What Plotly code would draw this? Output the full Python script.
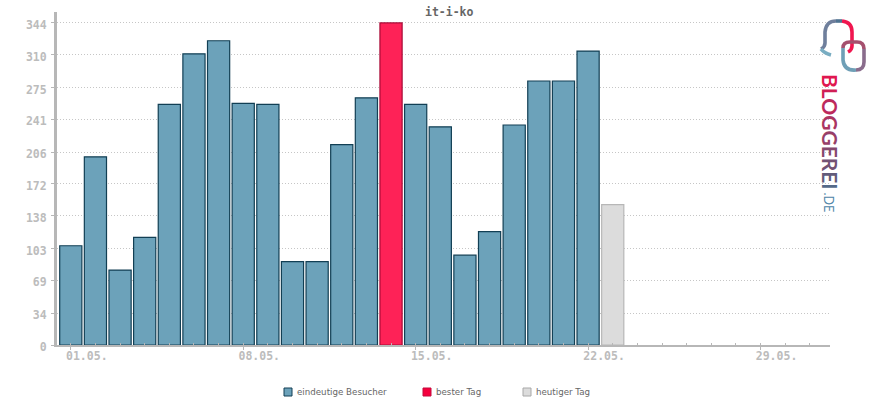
import plotly.graph_objects as go

# visitors per day, May
days = list(range(1, 32))
visitors = [106, 201, 80, 115, 257, 311, 325, 258, 257, 89, 89, 214, 264, None, 257, 233, 96, 121, 235, 282, 282, 314]
best_day = [14]
best_value = [344]
today = [23]
today_value = [150]

y_ticks = [0, 34, 69, 103, 138, 172, 206, 241, 275, 310, 344]
x_labels = {1: "01.05.", 8: "08.05.", 15: "15.05.", 22: "22.05.", 29: "29.05."}
legend_names = ["eindeutige Besucher", "bester Tag", "heutiger Tag"]

logo_word = "BLOGGEREI"
logo_colors = ["#e0174f", "#d01f55", "#bd2a5c", "#ab3562", "#983f68", "#85496e", "#725274", "#625c7a", "#556a88"]

AXIS = "#b7b7b7"
MONO = "DejaVu Sans Mono"
W, H = 870, 400
L, R, T, B = 57, 830, 12, 345


def px(x, y):
    # page pixels to paper coordinates
    return (x - L) / (R - L), (B - y) / (B - T)


def logo_path(d, color, width=3.6):
    parts = []
    for tok in d.split():
        if tok[0].isalpha():
            parts.append(tok)
        else:
            x, y = [float(v) for v in tok.split(",")]
            fx, fy = px(x, y)
            parts.append(f"{fx:.5f},{fy:.5f}")
    return dict(type="path", xref="paper", yref="paper", path=" ".join(parts), layer="above",
                line=dict(color=color, width=width))


fig = go.Figure()
bar_w = 0.9
fig.add_trace(go.Bar(x=days[:len(visitors)], y=visitors, name=legend_names[0], width=bar_w,
                     marker=dict(color="#6ca2ba", line=dict(color="#123f54", width=1.2))))
fig.add_trace(go.Bar(x=best_day, y=best_value, name=legend_names[1], width=bar_w,
                     marker=dict(color="#fe2257", line=dict(color="#a80a36", width=1.2))))
fig.add_trace(go.Bar(x=today, y=today_value, name=legend_names[2], width=bar_w,
                     marker=dict(color="#dcdcdc", line=dict(color="#b7b7b7", width=1.2))))

shapes = [
    logo_path("M 821,49 Q 825,47 825,43 L 825,32 Q 826,21 836,21", "#6f7f9c"),
    logo_path("M 836,21 L 842,21", "#4f7391"),
    logo_path("M 842,21 Q 852,22 852,32 L 852,46 Q 852,50 848,52", "#f0164f"),
    logo_path("M 821,49 Q 824,53 831,55", "#79adc2"),
    logo_path("M 843,48 Q 843,42 850,42 L 857,42 Q 864,42 864,49", "#a5506e"),
    logo_path("M 864,49 L 864,62 Q 864,70 856,70", "#8a6c8c"),
    logo_path("M 856,70 Q 844,71 843,60 L 843,48", "#6f9fb6"),
]

annotations = [
    dict(x=449, y=12, text="<b>it-i-ko</b>", font=dict(family=MONO, size=11.5, color="#666666")),
    dict(x=831, y=132, textangle=90,
         text="".join(f'<span style="color:{c}"><b>{ch}</b></span>' for ch, c in zip(logo_word, logo_colors)),
         font=dict(family="Lato", size=21)),
    dict(x=828.5, y=202, textangle=90, text=".DE", font=dict(family="Lato", size=12.5, color="#4f86a8")),
]
annotations = [
    {**a, "x": px(a["x"], a["y"])[0], "y": px(a["x"], a["y"])[1], "xref": "paper", "yref": "paper",
     "showarrow": False, "xanchor": "center", "yanchor": "middle"}
    for a in annotations
]

# legend row under the chart
legend_rows = [(288, 295, "#6ca2ba", "#123f54"), (427, 434, "#f5003d", "#c40a3c"), (527, 534, "#dcdcdc", "#a8a8a8")]
for name, (sx, tx, fill, edge) in zip(legend_names, legend_rows):
    x0, y0 = px(sx - 4, 388)
    x1, y1 = px(sx + 4, 396)
    shapes.append(dict(type="rect", xref="paper", yref="paper", x0=x0, y0=y0, x1=x1, y1=y1,
                       fillcolor=fill, line=dict(color=edge, width=1)))
    tpx, tpy = px(tx, 392)
    annotations.append(dict(x=tpx, y=tpy, xref="paper", yref="paper", text=name, showarrow=False,
                            xanchor="left", yanchor="middle",
                            font=dict(family="DejaVu Sans", size=8.7, color="#666666")))

fig.update_layout(
    width=W, height=H, autosize=False,
    margin=dict(l=L, r=W - R, t=T, b=H - B, pad=0),
    paper_bgcolor="white", plot_bgcolor="white",
    barmode="overlay", showlegend=False,
    shapes=shapes, annotations=annotations,
    font=dict(family=MONO),
)
fig.update_xaxes(
    range=[0.44, 31.82], tickmode="array", tickvals=days,
    ticktext=[x_labels.get(d, "") for d in days],
    ticks="outside", ticklen=3, tickwidth=1, tickcolor=AXIS,
    minor=dict(ticks="inside", ticklen=2, tickwidth=1, tickcolor=AXIS, tickmode="array", tickvals=days),
    ticklabelshift=16, ticklabelstandoff=-4,
    tickfont=dict(family=MONO, size=11.5, color="#bcbcbc", weight="bold"),
    showline=True, linecolor=AXIS, linewidth=2, showgrid=False, zeroline=False,
)
fig.update_yaxes(
    range=[0, 355.7], tickmode="array", tickvals=y_ticks,
    ticks="outside", ticklen=3, tickwidth=1, tickcolor=AXIS,
    ticklabelshift=2, ticklabelstandoff=2,
    tickfont=dict(family=MONO, size=11.5, color="#bcbcbc", weight="bold"),
    showline=True, linecolor=AXIS, linewidth=3,
    showgrid=True, gridcolor="#c6c6c6", griddash="1px,2px", gridwidth=1, zeroline=False,
)

fig.write_html("out.html", config=dict(displayModeBar=False), post_script="document.body.style.margin='0';")
